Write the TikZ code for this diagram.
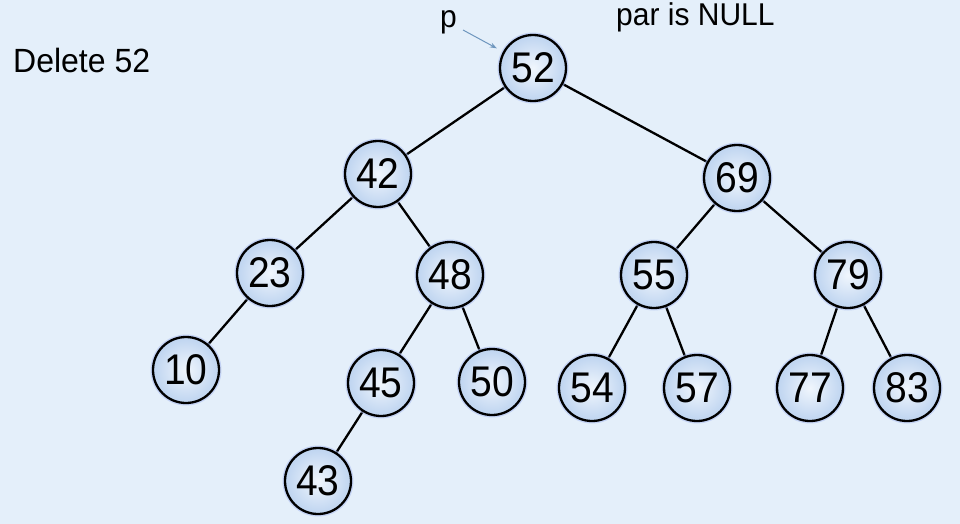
\documentclass[tikz,border=0pt]{standalone}
\usepackage{fontspec}
\setmainfont{Liberation Sans}
\usetikzlibrary{arrows.meta}
\definecolor{bgblue}{RGB}{228,239,250}
\definecolor{ballin}{RGB}{240,246,253}
\definecolor{ballout}{RGB}{190,212,240}
\definecolor{glow}{RGB}{120,150,230}
\definecolor{pointer}{RGB}{110,150,190}
\newcommand{\keytext}[1]{\scalebox{1}[1.1]{#1}}
\tikzset{
  keynode/.style={circle, draw=black, line width=2.3pt, minimum size=66pt,
    inner sep=0pt, inner color=ballin, outer color=ballout,
    font=\fontsize{39}{39}\selectfont,
    preaction={draw=glow!60, line width=5pt, opacity=0.6}},
  link/.style={draw=black, line width=2.3pt},
  caption/.style={font=\fontsize{30}{30}\selectfont, inner sep=0pt, anchor=west}
}
\begin{document}
\begin{tikzpicture}[x=1pt, y=-1pt]
  \fill[bgblue] (0,0) rectangle (960,524);
  \useasboundingbox (0,0) rectangle (960,524);

  % tree links, drawn first so the key circles cover their ends
  \coordinate (c52) at (533,68);
  \coordinate (c42) at (378,174);
  \coordinate (c69) at (737,178);
  \coordinate (c23) at (270,273);
  \coordinate (c48) at (450,275);
  \coordinate (c55) at (654,275);
  \coordinate (c79) at (848,275);
  \coordinate (c10) at (186,370);
  \coordinate (c45) at (381,383);
  \coordinate (c50) at (492,382);
  \coordinate (c54) at (592,388);
  \coordinate (c57) at (697,388);
  \coordinate (c77) at (810,388);
  \coordinate (c83) at (907,388);
  \coordinate (c43) at (318,481);

  \foreach \a/\b in {52/42,52/69,42/23,42/48,23/10,48/45,48/50,45/43,
                     69/55,69/79,55/54,55/57,79/77,79/83}
    \draw[link] (c\a) -- (c\b);

  % key circles
  \foreach \k in {52,42,69,23,48,55,79,10,45,50,54,57,77,83,43}
    \node[keynode] (n\k) at (c\k) {\keytext{\k}};

  % labels
  \node[caption, font=\fontsize{32}{32}\selectfont] (title) at (13,60) {\scalebox{1}[1.05]{Delete 52}};
  \node[caption] (par) at (616,17) {\scalebox{1}[1.05]{par is NULL}};
  \node[caption] (p) at (440,22) {\scalebox{1}[1.05]{p}};
  \coordinate (ptail) at (463,30);
  \draw[pointer, line width=1pt, -{Stealth[length=7pt,width=5pt]}, shorten >=7pt]
    (ptail) -- (n52);
\end{tikzpicture}
\end{document}
